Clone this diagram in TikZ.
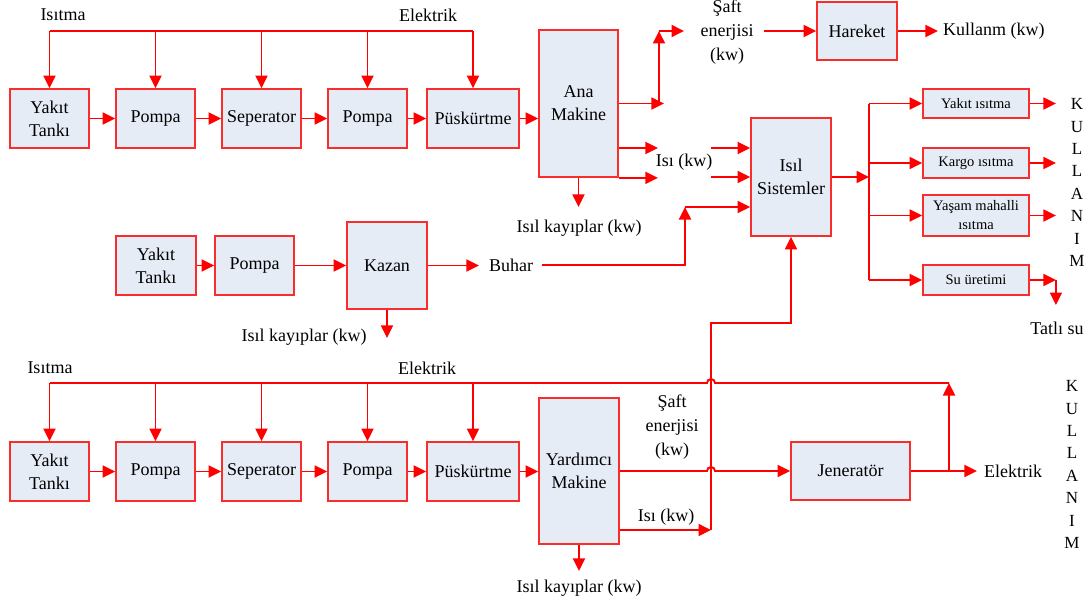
\documentclass[tikz,border=0pt]{standalone}
\usepackage{fontspec}
\setmainfont{Liberation Serif}
\usetikzlibrary{arrows.meta}
\definecolor{boxfill}{RGB}{230,236,246}
\definecolor{boxline}{RGB}{250,45,45}
\definecolor{flow}{RGB}{255,0,0}
\begin{document}
\begin{tikzpicture}[x=1pt,y=-1pt,
  blk/.style={draw=boxline,fill=boxfill,line width=1.8pt,inner sep=1pt,align=center,
    font=\fontsize{18}{23}\selectfont},
  sblk/.style={blk,font=\fontsize{14.5}{19}\selectfont},
  lbl/.style={align=center,inner sep=1pt,font=\fontsize{18}{24}\selectfont},
  flowline/.style={draw=flow,line width=1.9pt},
  arr/.style={flowline,-{Triangle[length=12.5pt,width=12pt]}}]
\useasboundingbox (0,0) rectangle (1092,607);

% ---------- main engine line ----------
\node[blk,minimum width=79pt,minimum height=59pt] (yt1) at (49.5,118.5) {Yakıt\\Tankı};
\node[blk,minimum width=79pt,minimum height=59pt] (p1) at (155.5,118.5) {Pompa};
\node[blk,minimum width=79pt,minimum height=59pt] (s1) at (261.5,118.5) {Seperator};
\node[blk,minimum width=79pt,minimum height=59pt] (p2) at (367.5,118.5) {Pompa};
\node[blk,minimum width=92pt,minimum height=59pt] (pk1) at (473,118.5) {Püskürtme};
\node[blk,minimum width=79pt,minimum height=147pt] (ana) at (578.5,103.5) {Ana\\Makine};
\node[blk,minimum width=80pt,minimum height=58pt] (har) at (857,31) {Hareket};
\node[blk,minimum width=80pt,minimum height=118pt] (isil) at (791,177) {Isıl\\Sistemler};

% ---------- thermal consumers ----------
\node[sblk,minimum width=106pt,minimum height=29pt] (yi) at (976,103.5) {Yakıt ısıtma};
\node[sblk,minimum width=106pt,minimum height=30pt] (ki) at (976,163) {Kargo ısıtma};
\node[sblk,minimum width=106pt,minimum height=41pt] (ym) at (976,215.5) {Yaşam mahalli\\ısıtma};
\node[sblk,minimum width=106pt,minimum height=30pt] (su) at (976,280) {Su üretimi};

% ---------- boiler line ----------
\node[blk,minimum width=80pt,minimum height=59pt] (yt2) at (156,265.5) {Yakıt\\Tankı};
\node[blk,minimum width=79pt,minimum height=59pt] (p3) at (254.5,265.5) {Pompa};
\node[blk,minimum width=80pt,minimum height=87pt] (kazan) at (387,265.5) {Kazan};

% ---------- auxiliary engine line ----------
\node[blk,minimum width=79pt,minimum height=59pt] (yt3) at (49.5,471.5) {Yakıt\\Tankı};
\node[blk,minimum width=79pt,minimum height=59pt] (p4) at (155.5,471.5) {Pompa};
\node[blk,minimum width=79pt,minimum height=59pt] (s2) at (261.5,471.5) {Seperator};
\node[blk,minimum width=79pt,minimum height=59pt] (p5) at (367.5,471.5) {Pompa};
\node[blk,minimum width=92pt,minimum height=59pt] (pk2) at (473,471.5) {Püskürtme};
\node[blk,minimum width=80pt,minimum height=146pt] (yard) at (579,471) {Yardımcı\\Makine};
\node[blk,minimum width=119pt,minimum height=58pt] (jen) at (850.5,471) {Jeneratör};

% ---------- labels ----------
\node[lbl] (isitma1) at (63,15) {Isıtma};
\node[lbl] (elek1) at (428,15) {Elektrik};
\node[lbl] (saft1) at (727,32) {Şaft\\enerjisi\\(kw)};
\node[lbl,anchor=west] (kul) at (942,31) {Kullanm (kw)};
\node[lbl] (isi1) at (684,162) {Isı (kw)};
\node[lbl] (kayip1) at (579,228) {Isıl kayıplar (kw)};
\node[lbl] (buhar) at (511,265) {Buhar};
\node[lbl] (kayip2) at (304,337) {Isıl kayıplar (kw)};
\node[lbl] (tatli) at (1057,328) {Tatlı su};
\node[lbl] (isitma2) at (50,368) {Isıtma};
\node[lbl] (elek2) at (427,368) {Elektrik};
\node[lbl] (saft2) at (672,427) {Şaft\\enerjisi\\(kw)};
\node[lbl] (isi2) at (666,517) {Isı (kw)};
\node[lbl] (kayip3) at (579,588) {Isıl kayıplar (kw)};
\node[lbl,anchor=west] (elek3) at (983,471) {Elektrik};
\node[lbl,font=\fontsize{17}{22.4}\selectfont] (kul1) at (1077,182.5) {K\\U\\L\\L\\A\\N\\I\\M};
\node[lbl,font=\fontsize{17}{22.4}\selectfont] (kul2) at (1072,464.5) {K\\U\\L\\L\\A\\N\\I\\M};

% ---------- main engine connectors ----------
\coordinate (topL) at (50,31);
\coordinate (topR) at (473,31);
\draw[flowline] (topL) -- (topR);
\foreach \n in {yt1,p1,s1,p2,pk1} \draw[arr] (\n.north |- topL) -- (\n.north);
\draw[arr] (yt1.east) -- (p1.west);
\draw[arr] (p1.east) -- (s1.west);
\draw[arr] (s1.east) -- (p2.west);
\draw[arr] (p2.east) -- (pk1.west);
\draw[arr] (pk1.east) -- (pk1.east -| ana.west);

\coordinate (sj) at (659,104);
\coordinate (st) at (659,31);
\coordinate (sa) at (684,31);
\coordinate (sb) at (764,31);
\draw[arr] (ana.east) -- ++(45,0);
\draw[arr] (sj) -- (st);
\draw[arr] (st) -- (sa);
\draw[arr] (sb) -- (har.west);
\draw[arr] (har.east) -- ++(40,0);
\draw[arr] ([yshift=-44.5pt]ana.east) -- ++(39,0);
\draw[arr] (ana.south east) -- ++(39,0);
\draw[arr] (ana.south) -- ++(0,29);

% ---------- inputs of the thermal systems ----------
\coordinate (q1) at (711,148);
\coordinate (q2) at (711,177);
\draw[arr] (q1) -- ([yshift=29pt]isil.west);
\draw[arr] (q2) -- (isil.west);

% ---------- boiler connectors ----------
\draw[arr] (yt2.east) -- (p3.west);
\draw[arr] (p3.east) -- (kazan.west);
\draw[arr] (kazan.east) -- ++(51,0);
\draw[arr] (kazan.south) -- ++(0,28);
\coordinate (b0) at (542,265);
\coordinate (b1) at (685,265);
\coordinate (b2) at (685,207);
\draw[arr] (b0) -- (b1) -- (b2);
\draw[arr] (b2) -- (isil.west |- b2);

% ---------- distribution to consumers ----------
\coordinate (d0) at (869,177);
\coordinate (dt) at (869,104);
\coordinate (db) at (869,280);
\draw[arr] (isil.east) -- (d0);
\draw[flowline] (dt) -- (db);
\foreach \n in {yi,ki,ym,su} \draw[arr] (dt |- \n.west) -- (\n.west);
\foreach \n in {yi,ki,ym} \draw[arr] (\n.east) -- ++(26,0);
\draw[arr] (su.east) -- ++(26,0) coordinate (sw);
\draw[arr] (sw) -- ++(0,25);

% ---------- auxiliary engine connectors ----------
\coordinate (botL) at (50,383);
\coordinate (botR) at (949,383);
\draw[flowline] (botL) -- (707,383) arc[start angle=180,end angle=0,radius=4pt] -- (botR);
\foreach \n in {yt3,p4,s2,p5,pk2} \draw[arr] (\n.north |- botL) -- (\n.north);
\draw[arr] (yt3.east) -- (p4.west);
\draw[arr] (p4.east) -- (s2.west);
\draw[arr] (s2.east) -- (p5.west);
\draw[arr] (p5.east) -- (pk2.west);
\draw[arr] (pk2.east) -- (pk2.east -| yard.west);
\draw[arr] (yard.east) -- (707,471) arc[start angle=180,end angle=0,radius=4pt] -- (jen.west);
\coordinate (h0) at (711,530);
\coordinate (h1) at (711,323);
\draw[arr] ([yshift=-59pt]yard.east) -- (h0);
\draw[arr] (h0) -- (h1) -- (isil.south |- h1) -- (isil.south);
\draw[arr] (yard.south) -- ++(0,26);
\coordinate (g0) at (949,471);
\draw[arr] (jen.east) -- ++(66,0);
\draw[arr] (g0) -- (botR);
\end{tikzpicture}
\end{document}
